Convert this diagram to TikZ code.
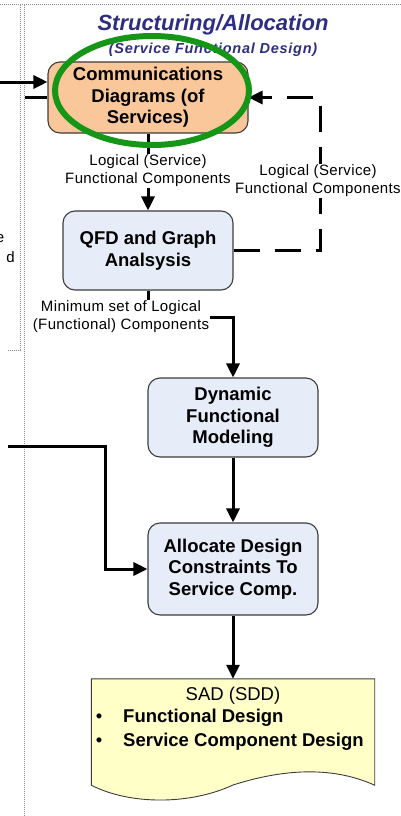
\documentclass[tikz,border=0pt]{standalone}
\usepackage{fontspec}
\setmainfont{Liberation Sans}
\usetikzlibrary{arrows.meta}
\definecolor{titleblue}{RGB}{46,46,128}
\definecolor{commorange}{RGB}{250,199,154}
\definecolor{procblue}{RGB}{230,237,248}
\definecolor{docyellow}{RGB}{255,255,200}
\definecolor{ringgreen}{RGB}{22,150,22}
\definecolor{framegray}{RGB}{140,140,140}
\definecolor{boxedge}{RGB}{60,60,60}

\begin{document}
\begin{tikzpicture}[x=1pt,y=-1pt,
  procbox/.style={draw=boxedge, line width=1.1pt, rounded corners=12pt, fill=procblue,
    align=center, font=\fontsize{18.5}{21.5}\selectfont\bfseries, inner sep=0pt},
  flow/.style={line width=3pt, -{Triangle[length=14pt,width=13pt]}},
  plainflow/.style={line width=3pt},
  feedback/.style={flow, dash pattern=on 26pt off 15pt},
  lbl/.style={fill=white, inner sep=1pt, align=center,
    font=\fontsize{15}{18}\selectfont\addfontfeature{LetterSpace=2.5}},
  frame/.style={draw=framegray, line width=1pt, dash pattern=on 1pt off 1pt},
  doctext/.style={font=\fontsize{18.5}{21.5}\selectfont},
  titletext/.style={text=titleblue, font=\fontsize{22}{26}\selectfont\bfseries\itshape},
  subtitletext/.style={text=titleblue,
    font=\fontsize{14.5}{17}\selectfont\bfseries\itshape\addfontfeature{LetterSpace=5}}]

\useasboundingbox (0,0) rectangle (401,816);
\clip (0,0) rectangle (401,816);

% dotted frame of the neighbouring lane
\draw[frame] (0,5) -- (401,5);
\draw[frame] (20.5,5) -- (20.5,350) -- (8,350);
\draw[frame] (24,5) -- (24,816);

% text of the neighbouring lane, running off the edge
\node[anchor=base east, font=\fontsize{15}{18}\selectfont, inner sep=0pt] (fragE) at (4.5,242) {e};
\node[anchor=base east, font=\fontsize{15}{18}\selectfont, inner sep=0pt] (fragD) at (15,262) {d};

% lane heading
\node[titletext, anchor=base, inner sep=0pt] (title) at (213,30.5) {Structuring/Allocation};
\node[subtitletext, anchor=base, inner sep=0pt] (subtitle) at (213,53) {(Service Functional Design)};

% process boxes
\node[procbox, fill=commorange, minimum width=200pt, minimum height=71pt] (comm) at (148,97.5)
  {Communications\\Diagrams (of\\Services)};
\node[procbox, minimum width=170pt, minimum height=79pt] (qfd) at (148,250.5)
  {QFD and Graph\\Analsysis};
\node[procbox, minimum width=170pt, minimum height=79pt] (dyn) at (233,417.5)
  {Dynamic\\Functional\\Modeling};
\node[procbox, minimum width=170pt, minimum height=92pt] (alloc) at (233,569)
  {Allocate Design\\Constraints To\\Service Comp.};

% output document
\node[minimum width=283pt, minimum height=106pt, inner sep=0pt] (sad) at (233,732) {};
\draw[draw=boxedge, line width=0.9pt, fill=docyellow]
  (sad.north west) -- (sad.north east) -- (sad.south east)
  .. controls (330,765) and (280,770) .. (233,785)
  .. controls (190,805) and (130,805) .. (sad.south west) -- cycle;
\node[doctext, anchor=base, inner sep=0pt] (sadtitle) at (233,700) {SAD (SDD)};
\node[doctext, anchor=base, inner sep=0pt] (bulA) at (99,722) {•};
\node[doctext, anchor=base, inner sep=0pt] (bulB) at (99,746) {•};
\node[doctext, font=\fontsize{18.5}{21.5}\selectfont\bfseries, anchor=base west, inner sep=0pt] (fd) at (123,722) {Functional Design};
\node[doctext, font=\fontsize{18.5}{21.5}\selectfont\bfseries, anchor=base west, inner sep=0pt] (scd) at (123,746) {Service Component Design};

% incoming flows from the left lane
\coordinate (inA) at (0,82);
\coordinate (inB) at (25,97.5);
\coordinate (inC) at (8,446);
\draw[flow] (inA) -- (inA -| comm.west);
\draw[plainflow] (inB) -- (comm.west);
\draw[flow] (inC) -- (105,446) -- (105,569) -- (alloc.west);

% main flow
\draw[flow] (comm) -- (qfd);
\node[lbl] (labA) at (148,171) {Logical (Service)\\Functional Components};

\draw[feedback] (qfd.east) -- (320,250.5) -- (320,97.5) -- (comm.east);
\node[lbl] (labB) at (318,181) {Logical (Service)\\Functional Components};

\draw[flow] (qfd.south) -- (148,317) -- (233,317) -- (dyn.north);
\node[lbl] (labC) at (121,317) {Minimum set of Logical\\(Functional) Components};

\draw[flow] (dyn) -- (alloc);
\draw[flow] (alloc) -- (sad.north);

% highlight ring
\draw[ringgreen, line width=6pt] (152,90.5) ellipse [x radius=97pt, y radius=54.5pt];
\end{tikzpicture}
\end{document}
